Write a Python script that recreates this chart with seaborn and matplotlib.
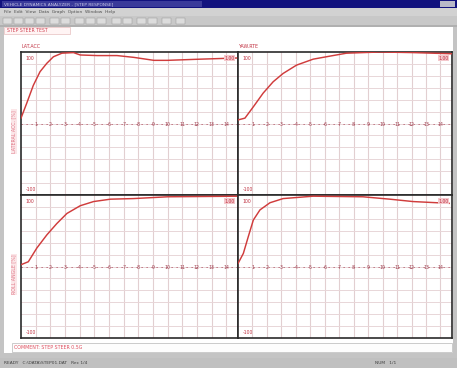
import matplotlib
matplotlib.use("Agg")
import matplotlib.pyplot as plt
import seaborn as sns
import pandas as pd
from matplotlib.patches import Rectangle

# ---- response traces (time in s, response in % of target) ----
t_lat = [0, 0.39, 0.84, 1.3, 1.76, 2.21, 2.79, 3.58, 4.04, 5.2, 6.55, 7.69, 9.06, 9.98, 12.26, 14.8]
r_lat = [9, 34, 64, 87, 101, 112, 118, 119, 115, 114, 114, 111, 106, 106, 108, 110]

t_yaw = [0, 0.48, 1.06, 1.74, 2.43, 3.12, 4.05, 5.2, 6.34, 7.5, 9.8, 12.1, 14.8]
r_yaw = [6, 9, 28, 51, 70, 84, 98, 108, 113, 118, 120, 119, 117]

t_rol = [0, 0.5, 1.08, 1.76, 2.44, 3.13, 4.04, 4.95, 6.1, 7.67, 10.0, 14.8]
r_rol = [3, 8, 31, 53, 72, 89, 102, 109, 113, 114, 117, 118]

t_str = [0, 0.37, 0.71, 1.06, 1.52, 2.21, 3.12, 5.2, 8.64, 10.5, 12.1, 14.6]
r_str = [5, 22, 50, 78, 95, 107, 114, 118, 117, 113, 109, 106]

panel_titles = ["LAT.ACC", "YAW.RTE", "", ""]
side_labels = ["LATERAL ACC. [%]", "", "ROLL ANGLE [%]", ""]
corner_top = ["100", "100", "100", "100"]
corner_right = ["1.00", "1.00", "1.00", "1.00"]
corner_bottom = ["-100", "-100", "-100", "-100"]
x_labels = [str(i) for i in range(1, 15)]

W, H = 457, 368
fig = plt.figure(figsize=(W / 100, H / 100), dpi=100)
fig.patch.set_facecolor("#f7f7f7")


def rect(x, y, w, h, fc, ec="none", lw=0.0, z=-5):
    fig.patches.append(Rectangle((x / W, 1 - (y + h) / H), w / W, h / H,
                                 transform=fig.transFigure, facecolor=fc,
                                 edgecolor=ec, linewidth=lw, zorder=z))


def ftext(x, y, s, **kw):
    fig.text(x / W, 1 - y / H, s, zorder=6, **kw)


# window frame
rect(0, 0, W, H, "#c4c4c4")
rect(0, 0, W, 8, "#12127e")
rect(2, 1, 200, 6, "#3a3a9a")
ftext(4, 4.2, "VEHICLE DYNAMICS ANALYZER - [STEP RESPONSE]", fontsize=3.2,
      color="#c8c8e8", va="center")
rect(440, 1, 15, 6, "#b8b8c8")
rect(0, 8, W, 8, "#d2d2d2")
ftext(4, 12.2, "File  Edit  View  Data  Graph  Option  Window  Help", fontsize=3.2,
      color="#505050", va="center")
rect(0, 16, W, 9, "#c8c8c8")
for bx in [3, 14, 25, 36, 50, 61, 75, 86, 97, 112, 123, 137, 148, 162, 176]:
    rect(bx, 17.5, 9, 6, "#dcdcdc", ec="#909090", lw=0.3)
rect(0, 25, W, 2, "#b0b0b0")
rect(4, 27, W - 8, 326, "#ffffff")
rect(4, 27, 66, 7, "#fff4f4", ec="#e0b0b0", lw=0.4)
ftext(7, 30.8, "STEP STEER TEST", fontsize=3.3, color="#d04050", va="center")

# bottom comment box and status bar
rect(12, 343, 440, 9, "#fdfdfd", ec="#b8b8b8", lw=0.5)
ftext(14, 347.8, "COMMENT: STEP STEER 0.5G", fontsize=3.4, color="#e05060", va="center")
rect(0, 358, W, 10, "#c0c0c0")
ftext(4, 363.2, "READY   C:\\DATA\\STEP01.DAT   Rec 1/4", fontsize=3.2,
      color="#404040", va="center")
ftext(375, 363.2, "NUM   1/1", fontsize=3.2, color="#404040", va="center")

# four response panels
left, mid_x, right = 21, 238, 452
top, mid_y, bottom = 52, 195, 338
boxes = [(left, top, mid_x - left, mid_y - top),
         (mid_x, top, right - mid_x, mid_y - top),
         (left, mid_y, mid_x - left, bottom - mid_y),
         (mid_x, mid_y, right - mid_x, bottom - mid_y)]
traces = [(t_lat, r_lat), (t_yaw, r_yaw), (t_rol, r_rol), (t_str, r_str)]

for i, ((px, py, pw, ph), (tt, rr)) in enumerate(zip(boxes, traces)):
    ax = fig.add_axes([px / W, 1 - (py + ph) / H, pw / W, ph / H])
    ax.set_zorder(2)
    ax.set_facecolor("white")
    ax.set_xlim(0, 14.8)
    ax.set_ylim(-120, 120)
    for xv in range(1, 15):
        ax.axvline(xv, color="#e2cfd1", lw=0.8, zorder=0)
    for yv in range(-100, 101, 20):
        ax.axhline(yv, color="#e8d6d8", lw=0.7, zorder=0)
    ax.axhline(0, color="#b05060", lw=0.6, ls=(0, (1.5, 4.5)), zorder=1)
    for k, lab in enumerate(x_labels):
        ax.text(k + 1, -2, lab, fontsize=3.4, color="#a04050",
                ha="center", va="center", zorder=2)
    df = pd.DataFrame({"t": tt, "r": rr})
    sns.lineplot(data=df, x="t", y="r", ax=ax, color="#d03c3c", lw=1.05,
                 zorder=3, legend=False)
    ax.set_xticks([])
    ax.set_yticks([])
    ax.set_xlabel("")
    ax.set_ylabel("")
    for s in ax.spines.values():
        s.set_color("#2a2a2a")
        s.set_linewidth(1.2)
    ax.text(0.02, 0.975, corner_top[i], transform=ax.transAxes, fontsize=3.3,
            color="#c03040", ha="left", va="top", zorder=4)
    ax.text(0.985, 0.975, corner_right[i], transform=ax.transAxes, fontsize=3.3,
            color="#c03040", ha="right", va="top", zorder=4,
            bbox=dict(boxstyle="square,pad=0.15", fc="#f4c8cc", ec="none"))
    ax.text(0.02, 0.02, corner_bottom[i], transform=ax.transAxes, fontsize=3.3,
            color="#c03040", ha="left", va="bottom", zorder=4)
    if panel_titles[i]:
        ftext(px + 1, py - 6, panel_titles[i], fontsize=3.4, color="#c03040",
              va="center")
    if side_labels[i]:
        ftext(14, py + ph / 2 + 8, side_labels[i], fontsize=3.4, color="#e07888",
              rotation=90, ha="center", va="center",
              bbox=dict(boxstyle="square,pad=0.2", fc="#fbe6e8", ec="none"))

fig.savefig("out.png", dpi=100, facecolor=fig.get_facecolor())
